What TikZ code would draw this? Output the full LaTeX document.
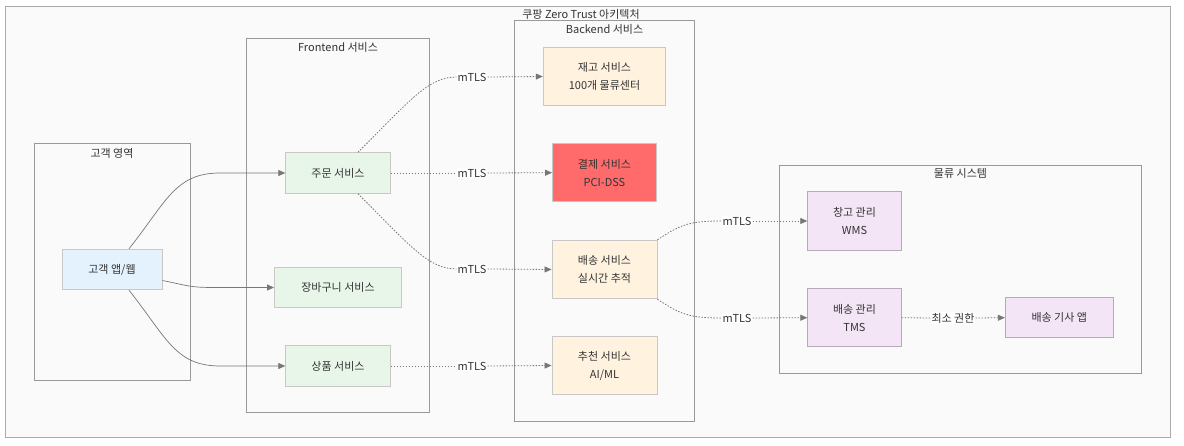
\documentclass[tikz,border=0pt]{standalone}
\usepackage{fontspec}
\setmainfont{Noto Sans CJK KR}
\usetikzlibrary{arrows.meta}
\definecolor{txt}{HTML}{333333}
\definecolor{frameout}{HTML}{AAAAAA}
\definecolor{framein}{HTML}{999999}
\definecolor{bgc}{HTML}{FAFAFA}
\definecolor{bluef}{HTML}{E3F2FD}
\definecolor{greenf}{HTML}{E8F5E9}
\definecolor{orangef}{HTML}{FFF3E0}
\definecolor{redf}{HTML}{FF6B6B}
\definecolor{purplef}{HTML}{F3E5F5}
\definecolor{nodeb}{HTML}{C8C8C8}
\definecolor{purpleb}{HTML}{B8A8BC}
\definecolor{linec}{HTML}{777777}
\begin{document}
\begin{tikzpicture}[x=1pt,y=-1pt,
  every node/.style={font=\fontsize{11}{18}\selectfont, text=txt},
  grp/.style={draw=framein, fill=bgc, line width=0.8pt},
  grptitle/.style={font=\fontsize{11}{13}\selectfont, text=txt},
  box/.style={draw=nodeb, line width=0.9pt, align=center, inner sep=0pt},
  bluebox/.style={box, fill=bluef},
  greenbox/.style={box, fill=greenf},
  orangebox/.style={box, fill=orangef},
  redbox/.style={box, fill=redf},
  purplebox/.style={box, fill=purplef, draw=purpleb},
  lbl/.style={fill=white, inner sep=1pt, font=\fontsize{11}{13}\selectfont},
  solidline/.style={draw=linec, line width=0.7pt},
  dotline/.style={draw=linec, line width=0.8pt, dash pattern=on 1.5pt off 1.5pt},
  tip/.style={-{Triangle[length=7pt,width=6pt]}, color=linec}
]
\useasboundingbox (0,0) rectangle (1184,446);
% outer frame
\draw[draw=frameout, fill=bgc, line width=0.8pt] (5,6) rectangle (1170,437);
\node[grptitle] (ttl) at (581,14) {쿠팡 Zero Trust 아키텍처};
% groups
\draw[grp] (34,143) rectangle (190,380.5);
\node[grptitle] (tcust) at (112,153) {고객 영역};
\draw[grp] (246.5,38) rectangle (429.5,412);
\node[grptitle] (tfront) at (338,47) {Frontend 서비스};
\draw[grp] (514.5,20.5) rectangle (694.5,421);
\node[grptitle] (tback) at (604.5,29) {Backend 서비스};
\draw[grp] (779.5,165.5) rectangle (1141.5,373);
\node[grptitle] (tlog) at (960.5,173.5) {물류 시스템};
% nodes
\node[bluebox, minimum width=100pt, minimum height=40.5pt] (app) at (112,269.5) {고객 앱/웹};
\node[greenbox, minimum width=104.5pt, minimum height=40.5pt] (order) at (338,173) {주문 서비스};
\node[greenbox, minimum width=127pt, minimum height=40.5pt] (cart) at (338,287.5) {장바구니 서비스};
\node[greenbox, minimum width=104.5pt, minimum height=40.5pt] (prod) at (338,366) {상품 서비스};
\node[orangebox, minimum width=122.5pt, minimum height=58.5pt] (inv) at (604.5,76.5) {재고 서비스\\100개 물류센터};
\node[redbox, minimum width=104pt, minimum height=58.5pt] (pay) at (604.5,172.7) {결제 서비스\\PCI-DSS};
\node[orangebox, minimum width=105pt, minimum height=58.5pt] (del) at (604.5,269.5) {배송 서비스\\실시간 추적};
\node[orangebox, minimum width=105pt, minimum height=58.5pt] (rec) at (604.5,365.5) {추천 서비스\\AI/ML};
\node[purplebox, minimum width=93.5pt, minimum height=58.5pt] (wms) at (854.5,221) {창고 관리\\WMS};
\node[purplebox, minimum width=93.5pt, minimum height=58.5pt] (tms) at (854.5,317.7) {배송 관리\\TMS};
\node[purplebox, minimum width=108pt, minimum height=40.5pt] (drv) at (1059.3,317.7) {배송 기사 앱};
% labels
\node[lbl] (m1) at (472,77) {mTLS};
\node[lbl] (m2) at (472,173) {mTLS};
\node[lbl] (m3) at (472,269) {mTLS};
\node[lbl] (m4) at (472,366) {mTLS};
\node[lbl] (m5) at (737,221) {mTLS};
\node[lbl] (m6) at (737,318) {mTLS};
\node[lbl] (m7) at (953,318) {최소 권한};
% solid edges from app
\draw[solidline, tip] ([xshift=17pt]app.north) .. controls +(38,-48) and +(-45,0) .. ([xshift=-65pt]order.west) -- (order.west);
\draw[solidline, tip] ([yshift=-11pt]app.east) .. controls +(25,5) and +(-25,0) .. ([xshift=-60pt]cart.west) -- (cart.west);
\draw[solidline, tip] ([xshift=17pt]app.south) .. controls +(38,48) and +(-45,0) .. ([xshift=-65pt]prod.west) -- (prod.west);
% dotted edges
\draw[dotline] ([xshift=20pt]order.north) .. controls +(52,-52) and +(-28,0) .. (m1.west);
\draw[dotline, tip] (m1.east) -- (inv.west);
\draw[dotline] (order.east) -- (m2.west);
\draw[dotline, tip] (m2.east) -- (pay.west);
\draw[dotline] ([xshift=20pt]order.south) .. controls +(52,52) and +(-28,0) .. (m3.west);
\draw[dotline, tip] (m3.east) -- (del.west);
\draw[dotline] (prod.east) -- (m4.west);
\draw[dotline, tip] (m4.east) -- (rec.west);
\draw[dotline] (del.north east) .. controls +(23,-15) and +(-33,0) .. (m5.west);
\draw[dotline, tip] (m5.east) -- (wms.west);
\draw[dotline] (del.south east) .. controls +(23,15) and +(-33,0) .. (m6.west);
\draw[dotline, tip] (m6.east) -- (tms.west);
\draw[dotline] (tms.east) -- (m7.west);
\draw[dotline, tip] (m7.east) -- (drv.west);
\end{tikzpicture}
\end{document}
